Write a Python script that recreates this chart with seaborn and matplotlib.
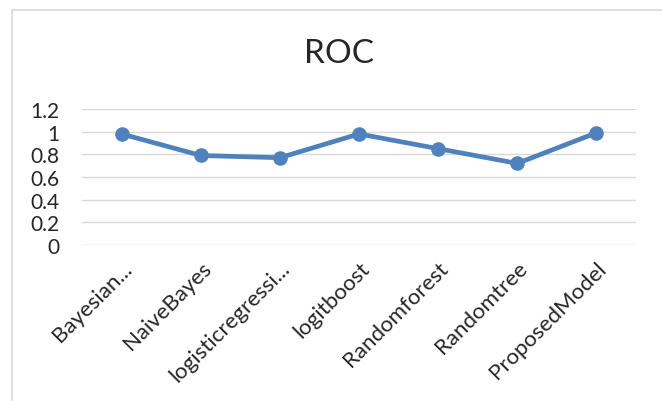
import matplotlib
matplotlib.use("Agg")
import matplotlib.pyplot as plt
import seaborn as sns
import pandas as pd
from matplotlib.lines import Line2D

# ROC score for each classifier
models = ["Bayesian...", "NaiveBayes", "logisticregressi...", "logitboost",
          "Randomforest", "Randomtree", "ProposedModel"]
roc = [0.98, 0.79, 0.77, 0.98, 0.85, 0.72, 0.99]
yticks = [0, 0.2, 0.4, 0.6, 0.8, 1.0, 1.2]
ytick_labels = ["0", "0.2", "0.4", "0.6", "0.8", "1", "1.2"]

sns.set_theme(style="white")
plt.rcParams["font.family"] = ["Lato", "DejaVu Sans"]

W, H = 662, 402
fig = plt.figure(figsize=(W / 100, H / 100), dpi=100)
ax = fig.add_axes([82 / W, 1 - 246 / H, (636 - 82) / W, (246 - 110) / H])

df = pd.DataFrame({"model": models, "roc": roc})
sns.lineplot(data=df, x="model", y="roc", sort=False, ax=ax,
             color="#4F81BD", linewidth=3.4, marker="o", markersize=10.5,
             markeredgewidth=0)

ax.set_xlim(-0.5, len(models) - 0.5)
ax.set_ylim(0, 1.2)
ax.set_yticks(yticks)
ax.set_yticklabels(ytick_labels, fontsize=15)
ax.set_xticks(range(len(models)))
ax.set_xticklabels(models, fontsize=16, rotation=45, ha="right",
                   rotation_mode="anchor")
ax.tick_params(axis="y", length=0, pad=16.5)
ax.tick_params(axis="x", length=0, pad=9)
ax.set_xlabel("")
ax.set_ylabel("")
for s in ax.spines.values():
    s.set_visible(False)
ax.yaxis.grid(True, color="#D9D9D9", linewidth=1.0)
ax.set_axisbelow(True)

fig.text(339 / W, 1 - 54 / H, "ROC", ha="center", va="center", fontsize=24)

# chart frame (left and top edges)
fig.add_artist(Line2D([12 / W, 12 / W], [0, 1 - 11 / H], color="#D9D9D9",
                      linewidth=1.2, transform=fig.transFigure))
fig.add_artist(Line2D([12 / W, 1], [1 - 11 / H, 1 - 11 / H], color="#D9D9D9",
                      linewidth=1.2, transform=fig.transFigure))

fig.savefig("out.png", dpi=100, facecolor="white")
